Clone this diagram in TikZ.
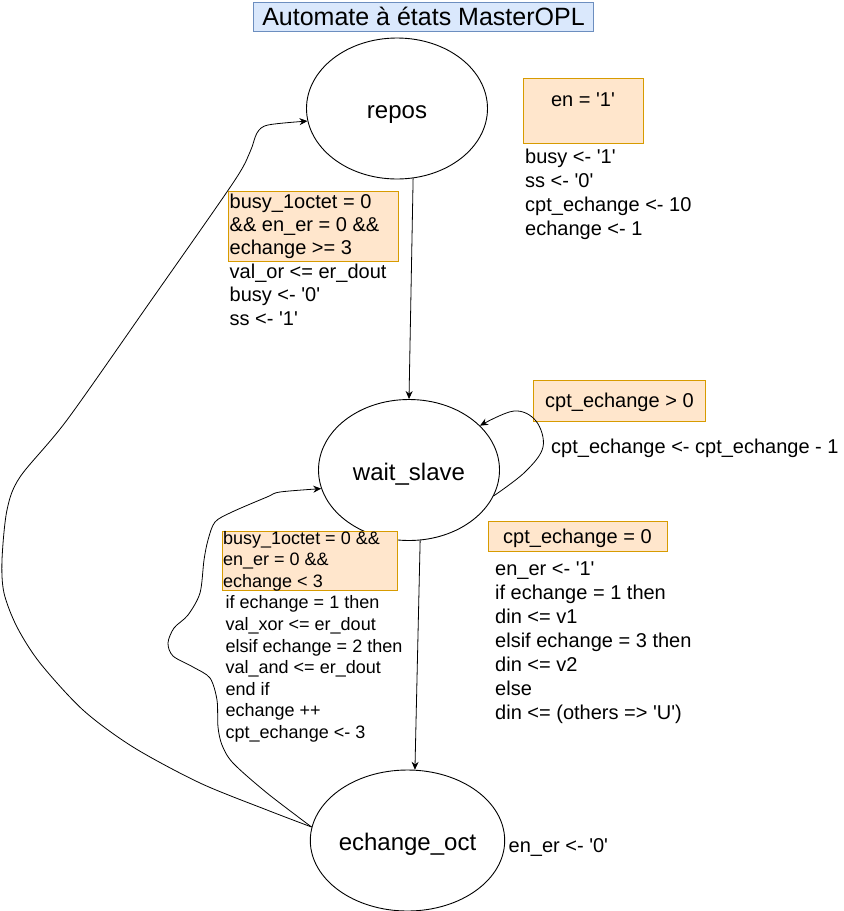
\documentclass[tikz,border=0pt]{standalone}
\usepackage{fontspec}
\newfontfamily\lsans{Liberation Sans}
\usetikzlibrary{arrows.meta,shapes.geometric}
\definecolor{obox}{HTML}{FFE6CC}
\definecolor{oline}{HTML}{D79B00}
\definecolor{bbox}{HTML}{DAE8FC}
\definecolor{bline}{HTML}{6C8EBF}
\begin{document}
\begin{tikzpicture}[x=1pt,y=-1pt,
  state/.style={draw, ellipse, line width=0.9pt, minimum width=181pt, minimum height=141pt,
    inner sep=0pt, font=\lsans\fontsize{24}{28}\selectfont, text height=22.4pt, text depth=2.4pt},
  cond/.style={draw=oline, fill=obox, line width=1pt, inner sep=0pt, anchor=north west},
  lbl/.style={anchor=base west, inner sep=0pt, font=\lsans\fontsize{20}{24}\selectfont},
  slbl/.style={anchor=base west, inner sep=0pt, font=\lsans\fontsize{18}{21.6}\selectfont},
  arr/.style={-{Stealth[length=8pt,width=7pt]}, line width=0.8pt}
]
\useasboundingbox (0,0) rectangle (844,911);

% title
\node[draw=bline, fill=bbox, line width=1pt, anchor=north west, minimum width=340pt, minimum height=29pt,
  inner sep=0pt, font=\lsans\fontsize{25}{30}\selectfont, text height=19pt, text depth=2pt] (title) at (253,2)
  {Automate à états MasterOPL};

% states
\node[state] (rp) at (397,108.5) {repos};
\node[state] (ws) at (409,470) {wait\_slave};
\node[state] (eo) at (407.5,840.5) {echange\_oct};

% condition boxes
\node[cond, minimum width=120pt, minimum height=65pt] (c0) at (523,78) {};
\node[cond, minimum width=170.5pt, minimum height=70pt] (c1) at (227.5,190.5) {};
\node[cond, minimum width=172pt, minimum height=41pt] (c2) at (533,380) {};
\node[cond, minimum width=179pt, minimum height=29.5pt] (c3) at (488,521) {};
\node[cond, minimum width=175.5pt, minimum height=59.5pt] (c4) at (221.5,530.5) {};

% texts
\node[lbl, anchor=base] (t0) at (583,106) {en = '1'};
\foreach \t [count=\i from 0] in {busy <- '1', ss <- '0', cpt\_echange <- 10, echange <- 1}
  \node[lbl] (ta\i) at (525,163+24*\i) {\t};
\foreach \t [count=\i from 0] in {busy\_1octet = 0, \&\& en\_er = 0 \&\&, echange >= 3,
    val\_or <= er\_dout, busy <- '0', ss <- '1'}
  \node[lbl] (tb\i) at (229.5,208+23.4*\i) {\t};
\node[lbl] (tc) at (545,407.5) {cpt\_echange > 0};
\node[lbl] (td) at (551,453.3) {cpt\_echange <- cpt\_echange - 1};
\node[lbl] (te) at (503,543.5) {cpt\_echange = 0};
\foreach \t [count=\i from 0] in {en\_er <- '1', if echange = 1 then, din <= v1,
    elsif echange = 3 then, din <= v2, else, din <= (others => 'U')}
  \node[lbl] (tf\i) at (495,575+24*\i) {\t};
\foreach \t [count=\i from 0] in {busy\_1octet = 0 \&\&, en\_er = 0 \&\&, echange < 3}
  \node[slbl] (tg\i) at (223,544+21.6*\i) {\t};
\foreach \t [count=\i from 0] in {if echange = 1 then, val\_xor <= er\_dout, elsif echange = 2 then,
    val\_and <= er\_dout, end if, echange ++, cpt\_echange <- 3}
  \node[slbl] (th\i) at (225.5,608.8+21.6*\i) {\t};
\node[lbl] (ti) at (508.5,852.3) {en\_er <- '0'};

% transitions
\draw[arr] (rp.-77) -- (ws.north);
\draw[arr] (ws.-81) -- (eo.84);
\draw[arr] plot[smooth, tension=0.6] coordinates {(ws.-17) (525,472) (543,447) (536,421) (514,411) (ws.32)};
\draw[arr] plot[smooth, tension=0.5] coordinates {(eo.172) (267,810) (200,783) (133,747) (83,710) (40,663)
  (17,627) (4,593) (2,560) (7,510) (20,477) (67,420) (150,302) (233,183) (250,152) (257,133) (268,125) (rp.188)};
\draw[arr] plot[smooth, tension=0.5] coordinates {(eo.172) (267,793) (233,763) (222,745) (218,727) (217,700)
  (210,678) (193,667) (173,656) (168,643) (174,628) (188,615) (200,593) (204,560) (208,540) (215,522)
  (232,512) (267,497) (280,492) (ws.192)};
\end{tikzpicture}
\end{document}
